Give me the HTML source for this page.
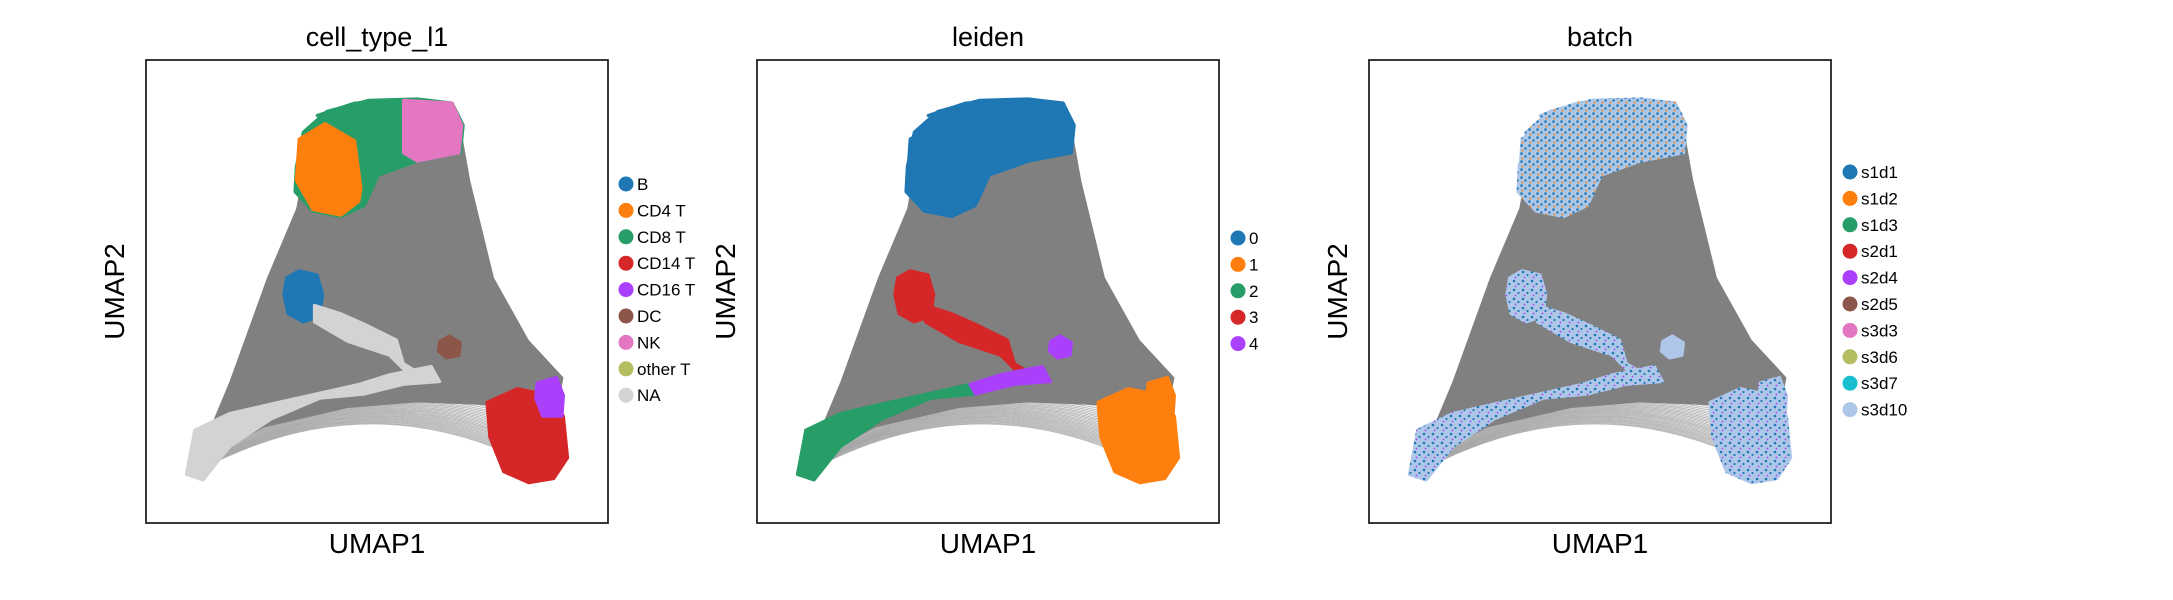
<!DOCTYPE html>
<html><head><meta charset="utf-8">
<style>
html,body{margin:0;padding:0;background:#fff;}
svg{display:block;font-family:"Liberation Sans","DejaVu Sans",sans-serif;}
</style></head>
<body>
<svg id="fig" width="2173" height="600" viewBox="0 0 2173 600" xmlns="http://www.w3.org/2000/svg">
<defs>
<pattern id="mix" width="9" height="9" patternUnits="userSpaceOnUse">
<rect width="9" height="9" fill="#aec7e8"/>
<circle cx="2" cy="2" r="1.3" fill="#1f77b4"/>
<circle cx="6.5" cy="5" r="1.1" fill="#1f77b4"/>
<circle cx="3.5" cy="7.5" r="0.9" fill="#aa40fc"/>
</pattern>
<pattern id="mixTop" width="8" height="8" patternUnits="userSpaceOnUse">
<rect width="8" height="8" fill="#aec7e8"/>
<circle cx="1.5" cy="1.5" r="1.3" fill="#1f77b4"/>
<circle cx="5.5" cy="4.5" r="1.2" fill="#1f77b4"/>
<circle cx="2.5" cy="6.5" r="1" fill="#ff7f0e"/>
</pattern>
</defs>
</svg>
<script>
// Region outlines in embedding coordinates (domain x: 105..437, y: 43..377)
const regionNames = ["edges","topAll","topOrange","topGreen","topPink","bClust","streamUpper","arcLeft","arcRight","dcClust","monoRed","monoPurple"];
const regionShapes = [
 [[213,150],[222,100],[300,80],[330,85],[338,130],[355,200],[380,245],[405,272],[400,300],[350,292],[300,290],[250,294],[190,308],[140,335],[165,275],[192,200]],
 [[213,120],[218,95],[235,80],[265,72],[300,71],[325,74],[333,90],[331,110],[300,116],[272,126],[262,148],[245,156],[225,152],[212,138]],
 [[215,100],[235,88],[255,95],[262,120],[258,145],[245,155],[225,151],[213,130]],
 [[228,83],[255,74],[292,72],[293,110],[272,124],[262,138],[257,100],[240,90]],
 [[290,72],[325,74],[332,90],[330,110],[300,116],[290,110]],
 [[206,200],[215,195],[228,198],[232,212],[230,228],[218,232],[207,226],[204,212]],
 [[226,220],[245,226],[265,235],[285,245],[290,262],[300,268],[297,273],[280,256],[250,246],[226,232]],
 [[134,342],[140,310],[165,298],[200,290],[240,281],[258,277],[262,284],[230,287],[195,302],[165,322],[146,346]],
 [[258,277],[280,270],[310,264],[316,275],[290,277],[262,284]],
 [[316,246],[323,242],[331,247],[330,256],[321,258],[315,253]],
 [[350,290],[372,280],[395,285],[405,300],[408,330],[398,345],[380,348],[362,340],[352,315]],
 [[386,276],[400,272],[405,285],[404,300],[390,300],[385,287]]
];
const cellTypeColors = ["#808080","#279e68","#ff7f0e","#279e68","#e377c2","#1f77b4","#d3d3d3","#d3d3d3","#d3d3d3","#8c564b","#d62728","#aa40fc"];
const leidenColors   = ["#808080","#1f77b4","#1f77b4","#1f77b4","#1f77b4","#d62728","#d62728","#279e68","#aa40fc","#aa40fc","#ff7f0e","#ff7f0e"];
const batchColors    = ["#808080","url(#mixTop)","url(#mixTop)","url(#mixTop)","url(#mixTop)","url(#mix)","url(#mix)","url(#mix)","url(#mix)","#aec7e8","url(#mix)","url(#mix)"];
const titles = ["cell_type_l1","leiden","batch"];
const legend1 = ["B","CD4 T","CD8 T","CD14 T","CD16 T","DC","NK","other T","NA"];
const legend1Col = ["#1f77b4","#ff7f0e","#279e68","#d62728","#aa40fc","#8c564b","#e377c2","#b5bd61","#d3d3d3"];
const legend2 = ["0","1","2","3","4"];
const legend2Col = ["#1f77b4","#ff7f0e","#279e68","#d62728","#aa40fc"];
const legend3 = ["s1d1","s1d2","s1d3","s2d1","s2d4","s2d5","s3d3","s3d6","s3d7","s3d10"];
const legend3Col = ["#1f77b4","#ff7f0e","#279e68","#d62728","#aa40fc","#8c564b","#e377c2","#b5bd61","#17becf","#aec7e8"];

const NS="http://www.w3.org/2000/svg";
const svg=document.getElementById('fig');
function mk(tag,attrs,parent){const e=document.createElementNS(NS,tag);for(const k in attrs)e.setAttribute(k,attrs[k]);(parent||svg).appendChild(e);return e;}
const panels=[{x:146,col:cellTypeColors,leg:legend1,legc:legend1Col,ly:184,lx:626},
              {x:757,col:leidenColors,leg:legend2,legc:legend2Col,ly:238,lx:1238},
              {x:1369,col:batchColors,leg:legend3,legc:legend3Col,ly:172,lx:1850}];
const PW=462,PH=463,PT=60;
panels.forEach((p,pi)=>{
  const xs=d=>p.x+(d-105)/332*PW;
  const ys=d=>PT+(d-43)/334*PH;
  const g=mk('g',{});
  
  
  const eg=mk('g',{},g);
  
  
  for(let i=0;i<30;i++){
    const t=i/29;
    const x1=xs(138+t*45),y1=ys(342-t*38),x2=xs(400-t*45),y2=ys(344-t*55);
    mk('path',{d:`M${x1},${y1} Q${(x1+x2)/2},${ys(268+t*8)} ${x2},${y2}`,fill:'none',stroke:'#8a8a8a',"stroke-width":1,opacity:0.6},eg);
  }
  regionShapes.forEach((pts,ri)=>{
    const poly=mk('polygon',{points:pts.map(q=>xs(q[0])+','+ys(q[1])).join(' '),fill:p.col[ri],stroke:p.col[ri],"stroke-width":ri==0?0:3,"stroke-linejoin":"round"},g);
    
    
  });
  const fr=mk('rect',{x:p.x,y:PT,width:PW,height:PH,fill:'none',stroke:'#222',"stroke-width":1.8},g);
  
  
  const tt=mk('text',{x:p.x+PW/2,y:46,"text-anchor":"middle","font-size":27,fill:'#000'},g);
  tt.textContent=titles[pi];
  
  
  const xl=mk('text',{x:p.x+PW/2,y:553,"text-anchor":"middle","font-size":28,fill:'#000'},g);
  xl.textContent='UMAP1';
  
  
  const yl=mk('text',{x:0,y:0,"text-anchor":"middle","font-size":28,fill:'#000',transform:`translate(${p.x-22},${PT+PH/2}) rotate(-90)`},g);
  yl.textContent='UMAP2';
  
  
  p.leg.forEach((lab,li)=>{
    const lg=mk('g',{},g);
    
    
    const cy=p.ly+li*26.4;
    mk('circle',{cx:p.lx,cy:cy,r:7.5,fill:p.legc[li]},lg);
    const t=mk('text',{x:p.lx+11,y:cy+6,"font-size":17,fill:'#000'},lg);
    t.textContent=lab;
  });
});
</script>
</body></html>
